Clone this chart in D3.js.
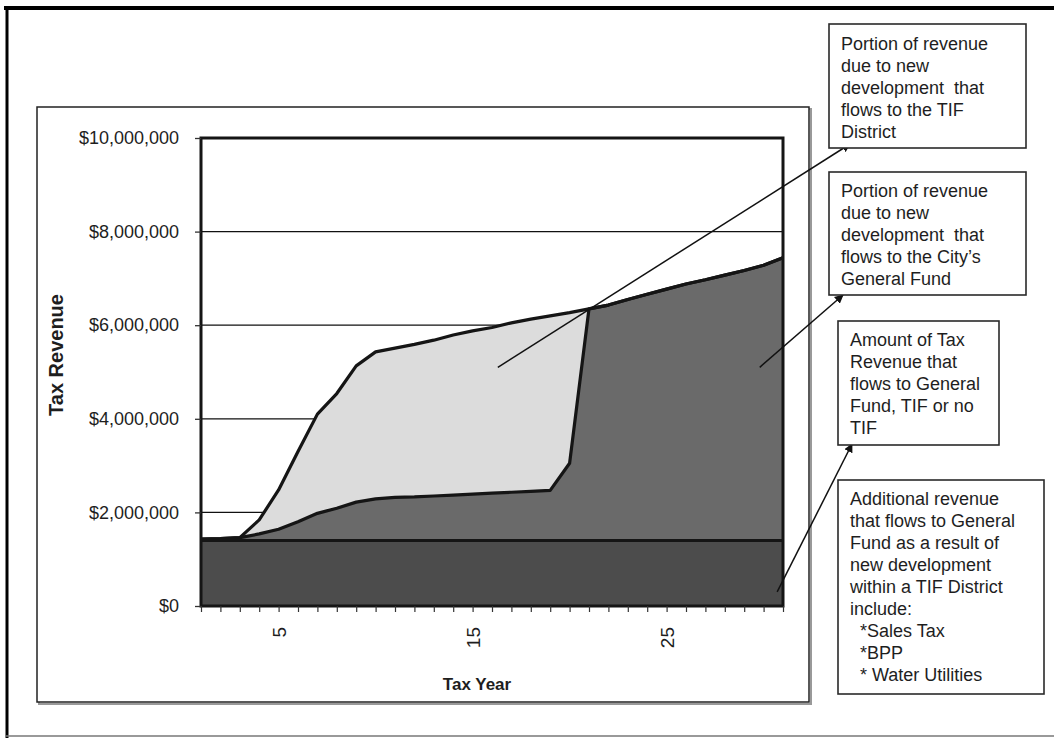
<!DOCTYPE html>
<html>
<head>
<meta charset="utf-8">
<script src="https://cdn.jsdelivr.net/npm/d3@7"></script>
<style>
  html, body { margin: 0; padding: 0; background: #fff; }
  svg { display: block; }
  text { font-family: "Liberation Sans", Arial, sans-serif; fill: #1e1e1e; }
</style>
</head>
<body>
<svg id="chart" width="1054" height="738"></svg>
<script>
// Tax years along the horizontal axis
const taxYears = d3.range(1, 32);
const yearLabels = [5, 15, 25];

// Revenue levels per year (dollars)
// Base revenue that flows to the General Fund with or without a TIF
const baseRevenue = taxYears.map(() => 1400000);
// Level reached by General Fund revenue (base + new development share)
const generalFundLevel = [
  1430000, 1440000, 1460000, 1540000, 1640000, 1800000, 1980000, 2090000,
  2220000, 2290000, 2320000, 2330000, 2350000, 2370000, 2390000, 2410000,
  2430000, 2450000, 2470000, 3050000, 6350000, 6430000, 6550000, 6660000,
  6770000, 6880000, 6970000, 7070000, 7170000, 7280000, 7440000
];
// Total tax revenue level (including the TIF District share)
const totalRevenueLevel = [
  1430000, 1440000, 1460000, 1840000, 2480000, 3300000, 4100000, 4540000,
  5130000, 5430000, 5510000, 5590000, 5680000, 5790000, 5880000, 5950000,
  6050000, 6130000, 6200000, 6270000, 6350000, 6430000, 6550000, 6660000,
  6770000, 6880000, 6970000, 7070000, 7170000, 7280000, 7440000
];
const revenueTicks = [0, 2000000, 4000000, 6000000, 8000000, 10000000];

// Callout boxes: text lines and where their leader arrows start (year, revenue)
const callouts = [
  { lines: ["Portion of revenue", "due to new", "development  that", "flows to the TIF", "District"],
    box: [829, 24, 197, 124], textX: 841, firstBase: 50,
    from: [16.3, 5100000], to: [850, 144] },
  { lines: ["Portion of revenue", "due to new", "development  that", "flows to the City\u2019s", "General Fund"],
    box: [829, 172, 197, 123], textX: 841, firstBase: 197,
    from: [29.8, 5100000], to: [843, 295] },
  { lines: ["Amount of Tax", "Revenue that", "flows to General", "Fund, TIF or no", "TIF"],
    box: [838, 321, 161, 124], textX: 850, firstBase: 346,
    from: [30.7, 300000], to: [852, 444] },
  { lines: ["Additional revenue", "that flows to General", "Fund as a result of", "new development",
            "within a TIF District", "include:", "  *Sales Tax", "  *BPP", "  * Water Utilities"],
    box: [838, 480, 206, 214], textX: 850, firstBase: 505,
    from: null, to: null }
];

const svg = d3.select("#chart");

// Outer page frame
svg.append("line").attr("x1", 4).attr("x2", 1054).attr("y1", 8).attr("y2", 8)
  .attr("stroke", "#000").attr("stroke-width", 4);
svg.append("line").attr("x1", 7).attr("x2", 7).attr("y1", 6).attr("y2", 738)
  .attr("stroke", "#000").attr("stroke-width", 3);
svg.append("line").attr("x1", 6).attr("x2", 1054).attr("y1", 736).attr("y2", 736)
  .attr("stroke", "#777").attr("stroke-width", 1.5);

// Chart area frame with a soft shadow edge
svg.append("rect").attr("x", 39).attr("y", 109).attr("width", 772).attr("height", 595)
  .attr("fill", "none").attr("stroke", "#999").attr("stroke-width", 2);
svg.append("rect").attr("x", 37).attr("y", 107).attr("width", 772).attr("height", 595)
  .attr("fill", "#fff").attr("stroke", "#222").attr("stroke-width", 1.5);

const plot = { left: 201, right: 783, top: 138, bottom: 606 };

const x = d3.scalePoint().domain(taxYears).range([plot.left, plot.right]);
const xc = d3.scaleLinear().domain([1, 31]).range([plot.left, plot.right]);
const y = d3.scaleLinear().domain([0, 10000000]).range([plot.bottom, plot.top]);

// Gridlines
svg.append("g").selectAll("line")
  .data(revenueTicks.filter(d => d > 0 && d < 10000000))
  .join("line")
  .attr("x1", plot.left).attr("x2", plot.right)
  .attr("y1", d => y(d)).attr("y2", d => y(d))
  .attr("stroke", "#111").attr("stroke-width", 1.3);

// Overlapping revenue areas, drawn from the largest level down
const layers = [
  { values: totalRevenueLevel, fill: "#dcdcdc" },
  { values: generalFundLevel, fill: "#6a6a6a" },
  { values: baseRevenue, fill: "#4c4c4c" }
];
const area = d3.area()
  .x((d, i) => x(taxYears[i]))
  .y0(y(0))
  .y1(d => y(d));
const line = d3.line()
  .x((d, i) => x(taxYears[i]))
  .y(d => y(d));

layers.forEach(l => {
  svg.append("path").datum(l.values).attr("d", area).attr("fill", l.fill);
});
layers.forEach(l => {
  svg.append("path").datum(l.values).attr("d", line)
    .attr("fill", "none").attr("stroke", "#151515").attr("stroke-width", 3.2)
    .attr("stroke-linejoin", "round");
});

// Plot border
svg.append("rect")
  .attr("x", plot.left).attr("y", plot.top)
  .attr("width", plot.right - plot.left).attr("height", plot.bottom - plot.top)
  .attr("fill", "none").attr("stroke", "#151515").attr("stroke-width", 3);

// Y axis
const yAxis = d3.axisLeft(y)
  .tickValues(revenueTicks)
  .tickSize(6)
  .tickPadding(16)
  .tickFormat(d => "$" + d3.format(",")(d));
const gy = svg.append("g").attr("transform", `translate(${plot.left},0)`).call(yAxis);
gy.select(".domain").remove();
gy.selectAll(".tick line").attr("stroke", "#333").attr("stroke-width", 1.3);
gy.selectAll(".tick text").attr("font-size", 18).attr("fill", "#222")
  .style("font-family", '"Liberation Sans", Arial, sans-serif');

// X axis (tick at every year, labels for selected years)
const xAxis = d3.axisBottom(x)
  .tickSize(6)
  .tickFormat(d => yearLabels.includes(d) ? String(d) : "");
const gx = svg.append("g").attr("transform", `translate(0,${plot.bottom})`).call(xAxis);
gx.select(".domain").remove();
gx.selectAll(".tick line").attr("stroke", "#333").attr("stroke-width", 1.2);
gx.selectAll(".tick text")
  .attr("font-size", 19).attr("fill", "#222")
  .style("font-family", '"Liberation Sans", Arial, sans-serif')
  .attr("text-anchor", "end")
  .attr("transform", "rotate(-90)")
  .attr("x", -21).attr("y", 0).attr("dy", "0.35em");

// Axis titles
svg.append("text")
  .attr("transform", "translate(63,355) rotate(-90)")
  .attr("text-anchor", "middle")
  .attr("font-size", 20).attr("font-weight", "bold")
  .text("Tax Revenue");
svg.append("text")
  .attr("x", 477).attr("y", 690)
  .attr("text-anchor", "middle")
  .attr("font-size", 17).attr("font-weight", "bold")
  .text("Tax Year");

// Arrow marker
svg.append("defs").append("marker")
  .attr("id", "arrow")
  .attr("viewBox", "0 0 10 10")
  .attr("refX", 9).attr("refY", 5)
  .attr("markerWidth", 6).attr("markerHeight", 6)
  .attr("orient", "auto")
  .append("path").attr("d", "M0,0 L10,5 L0,10 Z").attr("fill", "#111");

// Callouts
callouts.forEach(c => {
  if (c.from) {
    svg.append("line")
      .attr("x1", xc(c.from[0])).attr("y1", y(c.from[1]))
      .attr("x2", c.to[0]).attr("y2", c.to[1])
      .attr("stroke", "#111").attr("stroke-width", 1.5)
      .attr("marker-end", "url(#arrow)");
  }
  svg.append("rect")
    .attr("x", c.box[0]).attr("y", c.box[1])
    .attr("width", c.box[2]).attr("height", c.box[3])
    .attr("fill", "#fff").attr("stroke", "#2a2a2a").attr("stroke-width", 1.6);
  const t = svg.append("text").attr("font-size", 18).attr("fill", "#222")
    .attr("xml:space", "preserve").style("white-space", "pre");
  c.lines.forEach((ln, i) => {
    t.append("tspan").attr("x", c.textX).attr("y", c.firstBase + i * 22).text(ln);
  });
});
</script>
</body>
</html>
